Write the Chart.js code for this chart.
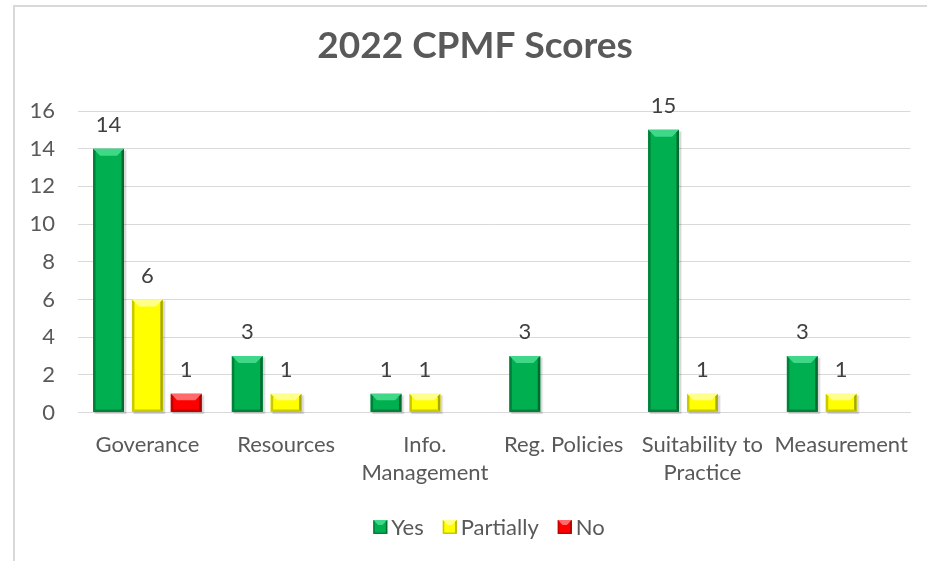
<!DOCTYPE html>
<html>
<head>
<meta charset="utf-8">
<script src="https://cdn.jsdelivr.net/npm/chart.js@4/dist/chart.umd.min.js"></script>
<style>
  html, body { margin: 0; padding: 0; background: #ffffff; overflow: hidden; }
  #wrap { position: relative; width: 927px; height: 561px; overflow: hidden; background: #fff; }
  #frame { position: absolute; left: 13px; top: 5px; width: 1000px; height: 1000px; border: 2px solid #d9d9d9; box-sizing: border-box; }
  #c { position: absolute; left: 0; top: 0; }
</style>
</head>
<body>
<div id="wrap">
  <div id="frame"></div>
  <canvas id="c" width="927" height="561"></canvas>
</div>
<script>
const chartTitle = '2022 CPMF Scores';
const categories = ['Goverance', 'Resources', ['Info.', 'Management'], 'Reg. Policies', ['Suitability to', 'Practice'], 'Measurement'];
const seriesNames = ['Yes', 'Partially', 'No'];
const yesValues = [14, 3, 1, 3, 15, 3];
const partiallyValues = [6, 1, 1, null, 1, 1];
const noValues = [1, null, null, null, null, null];
const yMin = 0;
const yMax = 16;
const yStep = 2;

const FONT = 'Lato, "Open Sans", sans-serif';
const TEXT_SIZE = 22;
const styles = [
  { fill: '#00b050', light: '#3fd888', dark: '#00813a', darker: '#006b30' },
  { fill: '#ffff00', light: '#ffff8a', dark: '#c9c900', darker: '#a8a800' },
  { fill: '#ff0000', light: '#ff6a6a', dark: '#c40000', darker: '#a00000' }
];
const seriesData = [yesValues, partiallyValues, noValues];

function drawBevelRect(ctx, st, l, t, r, b, bvMax, e) {
  const h = b - t;
  const bv = Math.min(bvMax, h * 0.35);
  ctx.save();
  ctx.fillStyle = st.light;
  ctx.beginPath();
  ctx.moveTo(l, t); ctx.lineTo(r, t); ctx.lineTo(r - bv, t + bv); ctx.lineTo(l + bv, t + bv);
  ctx.closePath(); ctx.fill();
  ctx.fillStyle = st.dark;
  ctx.beginPath();
  ctx.moveTo(l, t); ctx.lineTo(l + e, t + e); ctx.lineTo(l + e, b - e); ctx.lineTo(l, b);
  ctx.closePath(); ctx.fill();
  ctx.fillStyle = st.darker;
  ctx.beginPath();
  ctx.moveTo(r, t); ctx.lineTo(r - e, t + e); ctx.lineTo(r - e, b - e); ctx.lineTo(r, b);
  ctx.closePath(); ctx.fill();
  ctx.fillStyle = st.dark;
  ctx.beginPath();
  ctx.moveTo(l, b); ctx.lineTo(l + e, b - e); ctx.lineTo(r - e, b - e); ctx.lineTo(r, b);
  ctx.closePath(); ctx.fill();
  ctx.restore();
}

const bevelPlugin = {
  id: 'bevel',
  beforeDatasetsDraw(chart) {
    const ctx = chart.ctx;
    ctx.save();
    chart.data.datasets.forEach((ds, i) => {
      const meta = chart.getDatasetMeta(i);
      meta.data.forEach((bar, j) => {
        if (ds.data[j] == null) return;
        const p = bar.getProps(['x', 'y', 'base', 'width'], true);
        const l = p.x - p.width / 2, t = p.y, h = p.base - p.y;
        ctx.fillStyle = 'rgba(0,0,0,0.10)';
        ctx.fillRect(l + 2, t + 2, p.width, h);
        ctx.fillStyle = 'rgba(0,0,0,0.06)';
        ctx.fillRect(l + 1, t + 1, p.width + 2, h + 1);
      });
    });
    ctx.restore();
  },
  afterDatasetsDraw(chart) {
    const ctx = chart.ctx;
    chart.data.datasets.forEach((ds, i) => {
      const st = styles[i];
      const meta = chart.getDatasetMeta(i);
      meta.data.forEach((bar, j) => {
        const v = ds.data[j];
        if (v == null) return;
        const p = bar.getProps(['x', 'y', 'base', 'width'], true);
        drawBevelRect(ctx, st, p.x - p.width / 2, p.y, p.x + p.width / 2, p.base, 7, 2.5);
        ctx.save();
        ctx.fillStyle = '#404040';
        ctx.font = TEXT_SIZE + 'px ' + FONT;
        ctx.textAlign = 'center';
        ctx.textBaseline = 'middle';
        ctx.fillText(String(v), p.x, p.y - 24);
        ctx.restore();
      });
    });
  },
  afterDraw(chart) {
    const ctx = chart.ctx;
    ctx.save();
    ctx.fillStyle = '#595959';
    ctx.font = 'bold 37px ' + FONT;
    ctx.textAlign = 'center';
    ctx.textBaseline = 'middle';
    ctx.fillText(chartTitle, 475, 46);
    ctx.restore();
    ctx.save();
    ctx.font = TEXT_SIZE + 'px ' + FONT;
    ctx.textBaseline = 'middle';
    const box = 14, gapText = 4, gapItem = 19;
    const names = chart.data.datasets.map(d => d.label);
    const widths = names.map(n => box + gapText + ctx.measureText(n).width);
    const total = widths.reduce((a, w) => a + w, 0) + gapItem * (names.length - 1);
    let x = 489 - total / 2;
    const cy = 527;
    names.forEach((n, i) => {
      ctx.fillStyle = styles[i].fill;
      ctx.fillRect(x, cy - box / 2, box, box);
      drawBevelRect(ctx, styles[i], x, cy - box / 2, x + box, cy + box / 2, 5, 1.5);
      ctx.fillStyle = '#595959';
      ctx.textAlign = 'left';
      ctx.fillText(n, x + box + gapText, cy + 1);
      x += widths[i] + gapItem;
    });
    ctx.restore();
  }
};

new Chart(document.getElementById('c'), {
  type: 'bar',
  data: {
    labels: categories,
    datasets: seriesNames.map((name, i) => ({
      label: name,
      data: seriesData[i],
      backgroundColor: styles[i].fill,
      borderWidth: 0,
      categoryPercentage: 0.84,
      barPercentage: 0.795
    }))
  },
  options: {
    responsive: false,
    animation: false,
    devicePixelRatio: 1,
    layout: { padding: { top: 111, right: 14, bottom: 56.5, left: 0 } },
    plugins: {
      title: { display: false },
      legend: { display: false },
      tooltip: { enabled: false }
    },
    scales: {
      x: {
        grid: { display: false, drawTicks: false },
        border: { display: true, color: '#d9d9d9', width: 1 },
        ticks: {
          color: '#595959',
          font: { family: FONT, size: TEXT_SIZE, lineHeight: 1.27 },
          padding: 18,
          maxRotation: 0,
          minRotation: 0,
          autoSkip: false
        }
      },
      y: {
        min: yMin,
        max: yMax,
        grid: { color: '#d9d9d9', lineWidth: 1, drawTicks: false },
        border: { display: false },
        ticks: {
          stepSize: yStep,
          color: '#595959',
          font: { family: FONT, size: TEXT_SIZE },
          padding: 23
        },
        afterFit(scale) { scale.width = 78; }
      }
    }
  },
  plugins: [bevelPlugin]
});
</script>
</body>
</html>
